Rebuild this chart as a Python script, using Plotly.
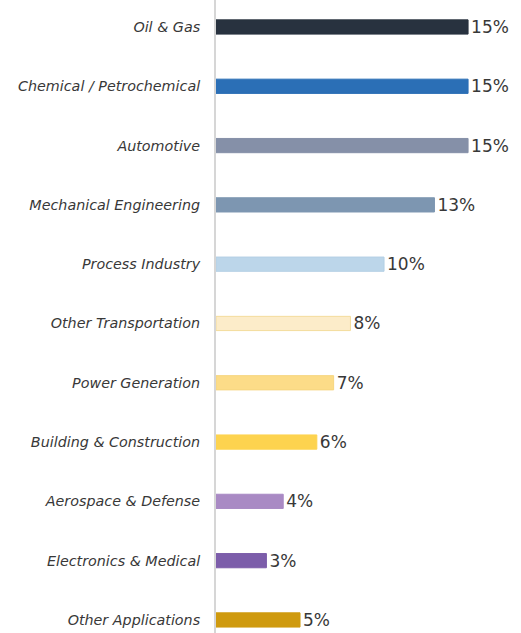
import plotly.graph_objects as go

# Share of demand by end-use industry (%)
industries = [
    "Oil & Gas",
    "Chemical / Petrochemical",
    "Automotive",
    "Mechanical Engineering",
    "Process Industry",
    "Other Transportation",
    "Power Generation",
    "Building & Construction",
    "Aerospace & Defense",
    "Electronics & Medical",
    "Other Applications",
]
shares = [15, 15, 15, 13, 10, 8, 7, 6, 4, 3, 5]
bar_colors = [
    "#28323f",
    "#2b6fb6",
    "#8590a8",
    "#7d96b1",
    "#bcd6ea",
    "#fcecc9",
    "#fcdc88",
    "#fdd34f",
    "#a98ac4",
    "#7c5daa",
    "#cf9a0f",
]
line_colors = [
    "#28323f", "#2b6fb6", "#8590a8", "#7d96b1", "#b3cfe4",
    "#f4dc9c", "#f6d57f", "#fdd34f", "#a98ac4", "#7c5daa", "#cf9a0f",
]

positions = list(range(len(industries)))

fig = go.Figure(
    go.Bar(
        x=shares,
        y=positions,
        orientation="h",
        width=0.24,
        marker=dict(color=bar_colors, line=dict(color=line_colors, width=1)),
        text=[f"{v}%" for v in shares],
        textposition="outside",
        constraintext="none",
        textfont=dict(family="DejaVu Sans, sans-serif", size=17, color="#383838"),
        cliponaxis=False,
        hoverinfo="skip",
    )
)

fig.update_layout(
    width=521,
    height=633,
    margin=dict(l=216, r=0, t=0, b=0),
    paper_bgcolor="white",
    plot_bgcolor="white",
    showlegend=False,
    xaxis=dict(
        range=[0, 18.15],
        visible=False,
        showgrid=False,
        zeroline=False,
    ),
    yaxis=dict(
        range=[10.22, -0.455],
        tickvals=positions,
        ticktext=industries,
        tickfont=dict(family="DejaVu Sans, sans-serif", size=14.3, color="#383838", style="italic"),
        ticklabelstandoff=11,
        showline=True,
        linecolor="#d6d6d6",
        linewidth=2,
        showgrid=False,
        zeroline=False,
        ticks="",
    ),
)

fig.write_html("out.html")
